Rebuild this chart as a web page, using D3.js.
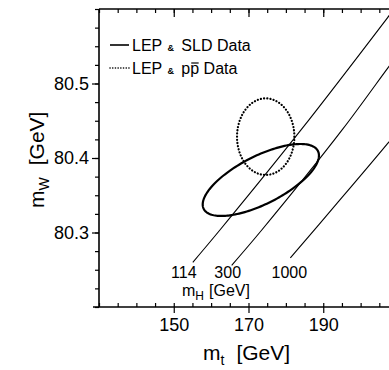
<!DOCTYPE html>
<html>
<head>
<meta charset="utf-8">
<script src="https://cdn.jsdelivr.net/npm/d3@7"></script>
<style>
  body { margin: 0; background: #fff; }
  svg { display: block; }
  text { font-family: "Liberation Sans", Arial, Helvetica, sans-serif; fill: #000; }
</style>
</head>
<body>
<svg id="chart" width="389" height="370"></svg>
<script>
// axis ticks
const mtMajor = [150, 170, 190];
const mtMinor = d3.range(130, 211, 5);
const mwMajor = [80.3, 80.4, 80.5];
const mwMinor = d3.range(80.2, 80.601, 0.025);

// lines of constant Higgs mass, [mt, mW]
const higgsLabels = ['114', '300', '1000'];
const mh114 = [[155.1, 80.260], [162.3, 80.303], [184.1, 80.438], [207.3, 80.589], [209.7, 80.605]];
const mh300 = [[165.5, 80.256], [173.5, 80.303], [195.1, 80.438], [207.3, 80.521], [210, 80.539]];
const mh1000 = [[181.2, 80.266], [194.0, 80.341], [207.3, 80.420], [210, 80.437]];

// contours: centre, widths, correlation
const lepSld = { mt: 173.3, mw: 80.3705, sMt: 15.55, sMw: 0.0483, rho: 0.68 };
const lepPpbar = { mt: 174.6, mw: 80.4286, sMt: 7.67, sMw: 0.0514, rho: 0 };

const svg = d3.select('#chart');

const x = d3.scaleLinear().domain([130, 210]).range([99, 398]);
const y = d3.scaleLinear().domain([80.2, 80.6]).range([307, 9]);

svg.append('clipPath').attr('id', 'plot')
  .append('rect')
  .attr('x', x(130)).attr('y', y(80.6))
  .attr('width', x(210) - x(130)).attr('height', y(80.2) - y(80.6));

// minor / major ticks
function noDomain(g) { g.select('.domain').remove(); }

svg.append('g').attr('transform', `translate(0,${y(80.2)})`)
  .call(d3.axisBottom(x).tickValues(mtMinor).tickSize(-4).tickFormat(''))
  .call(noDomain);
svg.append('g').attr('transform', `translate(0,${y(80.2)})`)
  .call(d3.axisBottom(x).tickValues(mtMajor).tickSize(6).tickPadding(5).tickFormat(d3.format('d')))
  .call(noDomain);

svg.append('g').attr('transform', `translate(0,${y(80.6)})`)
  .call(d3.axisTop(x).tickValues(mtMinor).tickSize(-4).tickFormat(''))
  .call(noDomain);
svg.append('g').attr('transform', `translate(0,${y(80.6)})`)
  .call(d3.axisTop(x).tickValues(mtMajor).tickSize(-8).tickFormat(''))
  .call(noDomain);

svg.append('g').attr('transform', `translate(${x(130)},0)`)
  .call(d3.axisLeft(y).tickValues(mwMinor).tickSize(4).tickFormat(''))
  .call(noDomain);
svg.append('g').attr('transform', `translate(${x(130)},0)`)
  .call(d3.axisLeft(y).tickValues(mwMajor).tickSize(7).tickPadding(3).tickFormat(d3.format('.1f')))
  .call(noDomain);

svg.selectAll('.tick line').attr('stroke', '#000').attr('stroke-width', 1.2);
svg.selectAll('.tick text').style('font-size', '18px').style('font-family', null);

// frame
const frame = svg.append('g').attr('stroke', '#000').attr('stroke-width', 1.6);
frame.append('line').attr('x1', x(130) - 6).attr('x2', x(210)).attr('y1', y(80.2)).attr('y2', y(80.2));
frame.append('line').attr('x1', x(130)).attr('x2', x(210)).attr('y1', y(80.6)).attr('y2', y(80.6));
frame.append('line').attr('x1', x(130)).attr('x2', x(130)).attr('y1', y(80.6)).attr('y2', y(80.2));

// Higgs mass lines
const plot = svg.append('g').attr('clip-path', 'url(#plot)');
const line = d3.line().x(d => x(d[0])).y(d => y(d[1])).curve(d3.curveCatmullRom.alpha(0.5));
const higgsLines = [mh114, mh300, mh1000];
plot.selectAll('path.mh').data(higgsLines).join('path')
  .attr('class', 'mh')
  .attr('d', line)
  .attr('fill', 'none').attr('stroke', '#000').attr('stroke-width', 1.1);

const labelDx = [-9, -4, -1];
svg.selectAll('text.mh').data(higgsLines).join('text')
  .attr('class', 'mh')
  .attr('x', (d, i) => x(d[0][0]) + labelDx[i])
  .attr('y', 278)
  .attr('text-anchor', 'middle')
  .style('font-size', '16px')
  .text((d, i) => higgsLabels[i]);

const mhTitle = svg.append('text').attr('x', 182).attr('y', 296).style('font-size', '16px');
mhTitle.append('tspan').text('m');
mhTitle.append('tspan').attr('dy', 4).style('font-size', '12px').text('H');
mhTitle.append('tspan').attr('dy', -4).attr('dx', 5).text('[GeV]');

// contours
function ellipse(e) {
  return d3.range(0, 2 * Math.PI + 0.001, Math.PI / 90).map(t => [
    e.mt + e.sMt * Math.cos(t),
    e.mw + e.sMw * (e.rho * Math.cos(t) + Math.sqrt(1 - e.rho * e.rho) * Math.sin(t))
  ]);
}
const closed = d3.line().x(d => x(d[0])).y(d => y(d[1])).curve(d3.curveLinearClosed);

plot.append('path').attr('d', closed(ellipse(lepPpbar)))
  .attr('fill', 'none').attr('stroke', '#000').attr('stroke-width', 2.2)
  .attr('stroke-dasharray', '0.1,3.1').attr('stroke-linecap', 'round');
plot.append('path').attr('d', closed(ellipse(lepSld)))
  .attr('fill', 'none').attr('stroke', '#000').attr('stroke-width', 2.2);

// legend
const lg = svg.append('g');
lg.append('line').attr('x1', 110).attr('x2', 129).attr('y1', 45).attr('y2', 45)
  .attr('stroke', '#000').attr('stroke-width', 1.6);
lg.append('line').attr('x1', 110).attr('x2', 129).attr('y1', 68).attr('y2', 68)
  .attr('stroke', '#000').attr('stroke-width', 1.6)
  .attr('stroke-dasharray', '0.1,2.6').attr('stroke-linecap', 'round');

function legendText(yy, rest) {
  const t = lg.append('text').attr('x', 132).attr('y', yy).style('font-size', '16px');
  t.append('tspan').text('LEP ');
  t.append('tspan').attr('dx', 1).style('font-size', '9px').style('font-weight', 'bold').text('&');
  t.append('tspan').attr('dx', 3).text(' ' + rest);
  return t;
}
legendText(51, 'SLD Data');
const t2 = legendText(74, 'pp Data');
// bar over the second p
const n = 7;
const x0 = t2.node().getStartPositionOfChar(n).x;
const x1 = t2.node().getEndPositionOfChar(n).x;
lg.append('line').attr('x1', x0 + 1).attr('x2', x1 - 0.5).attr('y1', 74 - 11).attr('y2', 74 - 11)
  .attr('stroke', '#000').attr('stroke-width', 1.2);

// axis titles
const xt = svg.append('text').attr('x', 203).attr('y', 360).style('font-size', '21px');
xt.append('tspan').text('m');
xt.append('tspan').attr('dy', 5).style('font-size', '14px').text('t');
xt.append('tspan').attr('dy', -5).attr('dx', 12).text('[GeV]');

const yt = svg.append('text').attr('transform', 'translate(44,208) rotate(-90)').style('font-size', '21px');
yt.append('tspan').text('m');
yt.append('tspan').attr('dy', 5).style('font-size', '14px').text('W');
yt.append('tspan').attr('dy', -5).attr('dx', 12).text('[GeV]');
</script>
</body>
</html>
